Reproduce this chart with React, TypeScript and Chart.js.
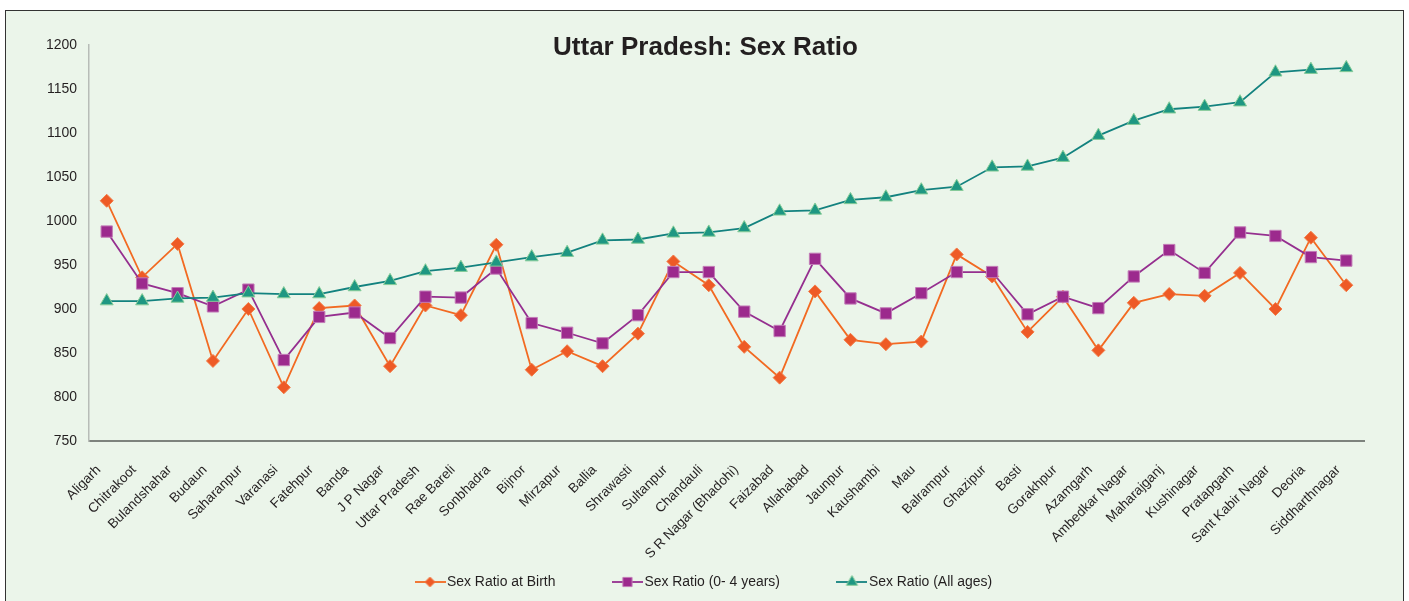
import React, { useEffect, useRef } from 'react';
import { Chart, registerables } from 'chart.js';
import { drawPoint } from 'chart.js/helpers';

Chart.register(...registerables);

const categories = [
  'Aligarh', 'Chitrakoot', 'Bulandshahar', 'Budaun', 'Saharanpur', 'Varanasi', 'Fatehpur', 'Banda',
  'J P Nagar', 'Uttar Pradesh', 'Rae Bareli', 'Sonbhadra', 'Bijnor', 'Mirzapur', 'Ballia', 'Shrawasti',
  'Sultanpur', 'Chandauli', 'S R Nagar (Bhadohi)', 'Faizabad', 'Allahabad', 'Jaunpur', 'Kaushambi', 'Mau',
  'Balrampur', 'Ghazipur', 'Basti', 'Gorakhpur', 'Azamgarh', 'Ambedkar Nagar', 'Maharajganj', 'Kushinagar',
  'Pratapgarh', 'Sant Kabir Nagar', 'Deoria', 'Siddharthnagar',
];

const sexRatioAtBirth = [
  1023, 936, 974, 841, 900, 811, 901, 904, 835, 904, 893, 973, 831, 852, 835, 872,
  954, 927, 857, 822, 920, 865, 860, 863, 962, 937, 874, 914, 853, 907, 917, 915,
  941, 900, 981, 927,
];

const sexRatio0to4 = [
  988, 929, 918, 903, 922, 842, 891, 896, 867, 914, 913, 946, 884, 873, 861, 893,
  942, 942, 897, 875, 957, 912, 895, 918, 942, 942, 894, 914, 901, 937, 967, 941,
  987, 983, 959, 955,
];

const sexRatioAllAges = [
  909, 909, 912, 913, 918, 917, 917, 925, 932, 943, 947, 953, 959, 964, 978, 979,
  986, 987, 992, 1011, 1012, 1024, 1027, 1035, 1039, 1061, 1062, 1072, 1097, 1114, 1127, 1130,
  1135, 1169, 1172, 1174,
];

const seriesLabels = ['Sex Ratio at Birth', 'Sex Ratio (0- 4 years)', 'Sex Ratio (All ages)'];
const yMin = 750;
const yMax = 1200;
const yStep = 50;
const titleText = 'Uttar Pradesh: Sex Ratio';

// layout constants (canvas coordinates)
const PLOT_LEFT = 83;
const PLOT_RIGHT_PAD = 39;
const PLOT_TOP = 34;
const PLOT_BOTTOM = 430;
const LEGEND_X = 414;
const LEGEND_TEXT_CY = 571;
const LEGEND_PAD = 62;

function hasFont(name: string): boolean {
  const c = document.createElement('canvas').getContext('2d');
  if (!c) return false;
  const s = 'abcdefghijklmnopqrstuvwxyzABCDEFGHIJ0123456789';
  c.font = '40px monospace';
  const a = c.measureText(s).width;
  c.font = `40px "${name}", monospace`;
  const b = c.measureText(s).width;
  return Math.abs(a - b) > 0.5;
}

function makeIcon(line: string, fill: string, border: string, style: string, radius: number) {
  const c = document.createElement('canvas');
  c.width = 31;
  c.height = 16;
  const ctx = c.getContext('2d')!;
  ctx.strokeStyle = line;
  ctx.lineWidth = 1.8;
  ctx.beginPath();
  ctx.moveTo(0, 8);
  ctx.lineTo(31, 8);
  ctx.stroke();
  ctx.fillStyle = fill;
  ctx.strokeStyle = border;
  ctx.lineWidth = 1;
  drawPoint(ctx, { pointStyle: style as any, radius, rotation: 0, borderWidth: 1 }, 15.5, 8);
  return c;
}

export default function App() {
  const ref = useRef<HTMLCanvasElement | null>(null);

  useEffect(() => {
    document.body.style.overflow = 'hidden';
    const narrow = hasFont('Liberation Sans Narrow');
    const family = narrow
      ? "'Liberation Sans Narrow', 'Liberation Sans', Arial, sans-serif"
      : "'Liberation Sans', Arial, sans-serif";
    const k = narrow ? 1 : 0.82;
    const tickSize = 17 * k;
    const xTickSize = 16.5 * k;
    const legendSize = 17 * k;
    const titleSize = 26 / 0.82 * k;

    const colors = [
      { line: '#f26a22', fill: '#ee5a26', border: '#f27a45', style: 'rectRot', r: 6.5 },
      { line: '#952f8f', fill: '#9c2a8d', border: '#c27bb7', style: 'rect', r: 8 },
      { line: '#13827f', fill: '#1e9782', border: '#86cc98', style: 'triangle', r: 7.5 },
    ];
    const icons = [
      makeIcon(colors[0].line, colors[0].fill, colors[0].border, 'rectRot', 5),
      makeIcon(colors[1].line, colors[1].fill, colors[1].border, 'rect', 6.5),
      makeIcon(colors[2].line, colors[2].fill, colors[2].border, 'triangle', 6.5),
    ];
    const values = [sexRatioAtBirth, sexRatio0to4, sexRatioAllAges];

    const placer = {
      id: 'placer',
      afterLayout(chart: any) {
        const lg = chart.legend;
        if (lg) {
          const h = lg.height;
          lg.left = LEGEND_X - LEGEND_PAD;
          lg.top = LEGEND_TEXT_CY - LEGEND_PAD - legendSize / 2;
          lg.bottom = lg.top + h;
        }
        const tb = chart.titleBlock;
        if (tb) {
          tb.left = 2;
          tb.right = chart.width;
          tb.width = tb.right - tb.left;
        }
        const xs = chart.scales.x;
        if (xs) {
          xs.bottom = chart.height;
          xs.height = xs.bottom - xs.top;
        }
      },
    };

    const titlePadTop = 21;

    const chart = new Chart(ref.current!, {
      type: 'line',
      data: {
        labels: categories,
        datasets: values.map((v, i) => ({
          label: seriesLabels[i],
          data: v,
          borderColor: colors[i].line,
          backgroundColor: colors[i].fill,
          borderWidth: 1.8,
          pointStyle: colors[i].style as any,
          pointRadius: colors[i].r,
          pointBackgroundColor: colors[i].fill,
          pointBorderColor: colors[i].border,
          pointBorderWidth: 1,
          tension: 0,
          fill: false,
          order: 3 - i,
        })),
      },
      options: {
        responsive: true,
        maintainAspectRatio: false,
        animation: false,
        events: [],
        layout: { padding: { left: 0, right: PLOT_RIGHT_PAD, top: 0, bottom: 0 } },
        plugins: {
          title: {
            display: true,
            text: titleText,
            color: '#231f20',
            font: { family, size: titleSize, weight: 'bold', lineHeight: 1.2 },
            padding: { top: titlePadTop, bottom: PLOT_TOP - titleSize * 1.2 - titlePadTop },
          },
          legend: {
            display: true,
            position: 'bottom',
            align: 'start',
            labels: {
              usePointStyle: true,
              pointStyleWidth: 20,
              padding: LEGEND_PAD,
              color: '#231f20',
              font: { family, size: legendSize },
              generateLabels: () =>
                seriesLabels.map((t, i) => ({
                  text: t,
                  pointStyle: icons[i] as any,
                  fillStyle: colors[i].fill,
                  strokeStyle: colors[i].line,
                  lineWidth: 0,
                  hidden: false,
                  datasetIndex: i,
                  fontColor: '#231f20',
                })),
            },
          },
          tooltip: { enabled: false },
        },
        scales: {
          x: {
            type: 'category',
            offset: true,
            grid: { display: false, drawTicks: false },
            border: { display: true, color: '#7d837d', width: 2 },
            ticks: {
              autoSkip: false,
              minRotation: 45,
              maxRotation: 45,
              padding: 21,
              labelOffset: -8,
              color: '#231f20',
              font: { family, size: xTickSize },
            },
            afterFit: (scale: any) => {
              const ch = scale.chart;
              const lh = ch.legend ? ch.legend.height : 0;
              scale.height = ch.height - PLOT_BOTTOM - lh;
            },
          },
          y: {
            min: yMin,
            max: yMax,
            grid: { display: false, drawTicks: false },
            border: { display: true, color: '#b7bcb7', width: 1.5 },
            ticks: {
              stepSize: yStep,
              padding: 12,
              color: '#231f20',
              font: { family, size: tickSize },
              callback: (v: any) => String(v),
            },
            afterFit: (scale: any) => {
              scale.width = PLOT_LEFT;
            },
          },
        },
      },
      plugins: [placer],
    });
    return () => chart.destroy();
  }, []);

  return (
    <div
      style={{
        position: 'fixed',
        left: 5,
        top: 10,
        width: 1399,
        height: 600,
        boxSizing: 'border-box',
        border: '1px solid #333',
        background: '#ebf5ea',
      }}
    >
      <div style={{ position: 'relative', width: '100%', height: '100%' }}>
        <canvas ref={ref} />
      </div>
    </div>
  );
}
